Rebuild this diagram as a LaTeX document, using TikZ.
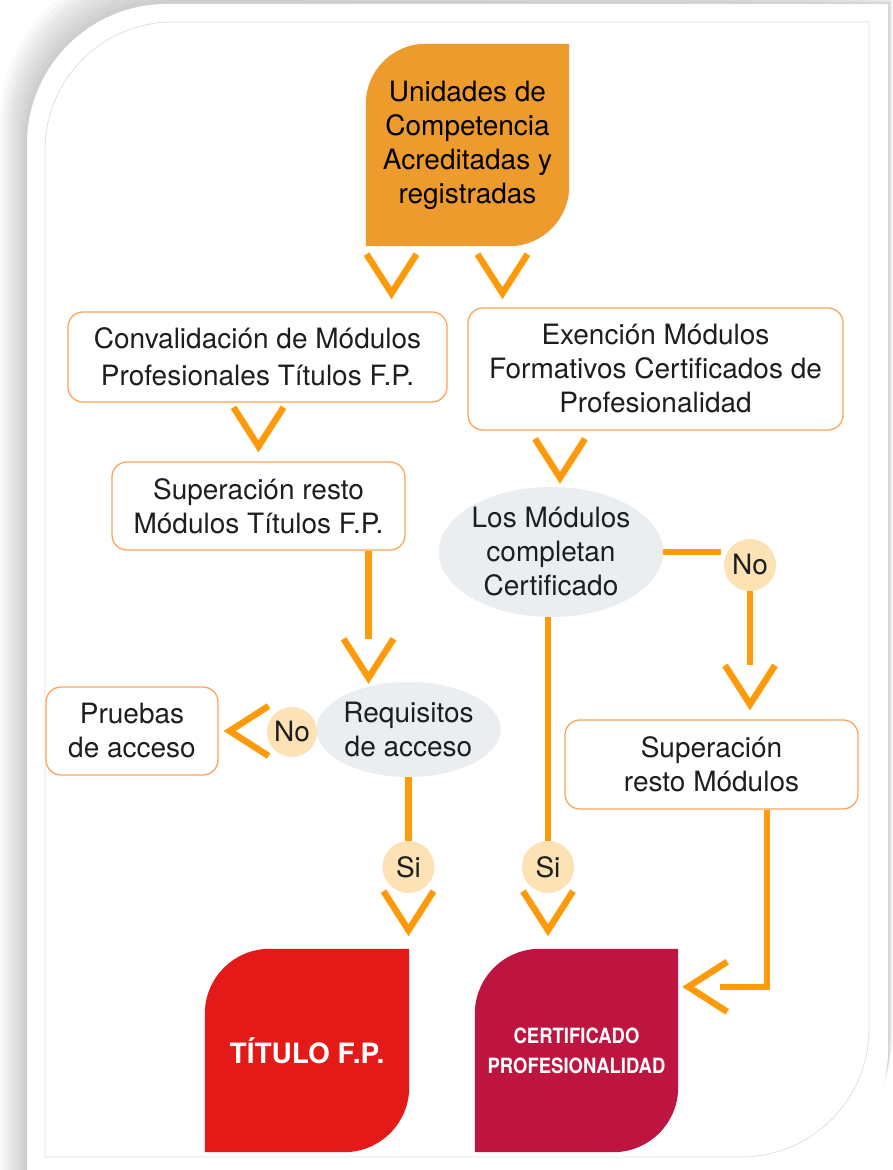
\documentclass[tikz,border=0pt]{standalone}
\usepackage{fontspec}
\setmainfont{TeX Gyre Heros}
\usepackage{graphicx}
\usepackage{xcolor}
\usepackage{tikz}
\usetikzlibrary{positioning, shapes.geometric}
\definecolor{unior}{HTML}{EE9B2E}
\definecolor{lineor}{HTML}{FF9A0A}
\definecolor{boxor}{HTML}{F9A75A}
\definecolor{peach}{HTML}{FDE2B5}
\definecolor{fog}{HTML}{EBEEF1}
\definecolor{titred}{HTML}{E31A17}
\definecolor{certred}{HTML}{BE1540}
\definecolor{ink}{HTML}{1E1E1E}
\pgfdeclarelayer{back}
\pgfdeclarelayer{background}
\pgfsetlayers{back,background,main}
\newcommand{\leaf}[3]{\fill[#2] (#1.south west) -- ([yshift=-#3pt]#1.north west) arc[start angle=180,end angle=90,radius=#3pt] -- (#1.north east) -- ([yshift=#3pt]#1.south east) arc[start angle=0,end angle=-90,radius=#3pt] -- cycle;}
\newcommand{\framepath}[5]{(#1,#2) -- (#1,#4-#5) arc[start angle=180,end angle=90,radius=#5] -- (#3,#4) -- (#3,#2+#5) arc[start angle=0,end angle=-90,radius=#5] -- cycle}

\begin{document}
\begin{tikzpicture}[x=1pt,y=1pt,every node/.style={font=\fontsize{28}{34}\selectfont}]
	\tikzstyle{link}=[draw=lineor,line width=6.5pt]
	\tikzstyle{box}=[rectangle,rounded corners=15pt,draw=boxor,line width=1.3pt,fill=white,align=center,text=ink,inner sep=0pt]
	\tikzstyle{ask}=[ellipse,fill=fog,align=center,text=ink,inner sep=0pt]
	\tikzstyle{answer}=[circle,fill=peach,text=ink,minimum size=52pt,inner sep=0pt]
	\tikzstyle{leafnode}=[align=center,inner sep=0pt,minimum width=203pt,minimum height=202pt]
	\tikzset{vee/.pic={\draw[link] (-25,39) -- (0,0) -- (25,39);}}
	\useasboundingbox (0,0) rectangle (892,1170);
	\begin{pgfonlayer}{back}
		\foreach \s in {1,...,9}
			\fill[black,opacity=0.022] \framepath{27-3*\s}{-20}{888+0.5*\s}{1166+0.5*\s}{140+2*\s};
		\fill[white] \framepath{27}{-20}{888}{1166}{140};
		\draw[black!12,line width=0.8pt] \framepath{45}{13}{869}{1148}{128};
	\end{pgfonlayer}
	\node[leafnode](unid) at (467.5,1025) {Unidades de\\Competencia\\Acreditadas y\\registradas};
	\node[box,minimum width=379pt,minimum height=90pt,font=\fontsize{28}{37}\selectfont](conv) at (257.5,813) {Convalidación de Módulos\\Profesionales Títulos F.P.};
	\node[box,minimum width=375pt,minimum height=122pt](exen) at (655.5,801) {Exención Módulos\\Formativos Certificados de\\Profesionalidad};
	\node[box,minimum width=293pt,minimum height=88pt](sup1) at (258.5,664) {Superación resto\\Módulos Títulos F.P.};
	\node[ask,minimum width=222pt,minimum height=130pt](comp) at (551,618) {Los Módulos\\completan\\Certificado};
	\node[answer](no1) at (750,605) {No};
	\node[box,minimum width=293pt,minimum height=89pt](sup2) at (711.5,405.5) {Superación\\resto Módulos};
	\node[ask,minimum width=177pt,minimum height=95pt](req) at (408.5,440.5) {Requisitos\\de acceso};
	\node[answer,minimum size=50pt](no2) at (292,438) {No};
	\node[box,minimum width=172pt,minimum height=88pt](prue) at (132,439) {Pruebas\\de acceso};
	\node[answer](si1) at (408.5,303) {Si};
	\node[answer](si2) at (548,303) {Si};
	\node[leafnode,minimum width=204pt,minimum height=203pt,text=white,font=\bfseries\fontsize{28}{34}\selectfont](tit) at (307,119.5) {TÍTULO F.P.};
	\node[leafnode,minimum height=203pt,text=white,font=\bfseries\fontsize{21}{30}\selectfont](cert) at (576.5,119.5) {\scalebox{0.88}[1]{CERTIFICADO}\\\scalebox{0.88}[1]{PROFESIONALIDAD}};
	\begin{pgfonlayer}{background}
		\leaf{unid}{unior}{60}
		\leaf{tit}{titred}{65}
		\leaf{cert}{certred}{65}
	\end{pgfonlayer}
	\pic at ([xshift=-76pt,yshift=-47pt]unid.south) {vee};
	\pic at ([xshift=35pt,yshift=-47pt]unid.south) {vee};
	\pic at ([yshift=15pt]sup1.north) {vee};
	\pic at ([xshift=9pt,yshift=9pt]comp.north) {vee};
	\draw[link] ([xshift=110pt]sup1.south) -- ([xshift=-40pt,yshift=43pt]req.north);
	\pic at ([xshift=-40pt,yshift=4pt]req.north) {vee};
	\pic[rotate=-90] at ([xshift=11pt]prue.east) {vee};
	\draw[link] (req.south) -- (si1);
	\pic at ([yshift=-37pt]si1.south) {vee};
	\draw[link] (comp.south -| si2) -- (si2);
	\pic at ([yshift=-37pt]si2.south) {vee};
	\draw[link] (comp.east) -- ([xshift=-3pt]comp.east -| no1.west);
	\draw[link] (no1) -- ([xshift=38.5pt,yshift=54pt]sup2.north);
	\pic at ([xshift=38.5pt,yshift=15pt]sup2.north) {vee};
	\draw[link] ([xshift=55.5pt]sup2.south) |- ([xshift=42pt,yshift=-38pt]cert.north east);
	\pic[rotate=-90] at ([xshift=10pt,yshift=-38pt]cert.north east) {vee};
\end{tikzpicture}
\end{document}
